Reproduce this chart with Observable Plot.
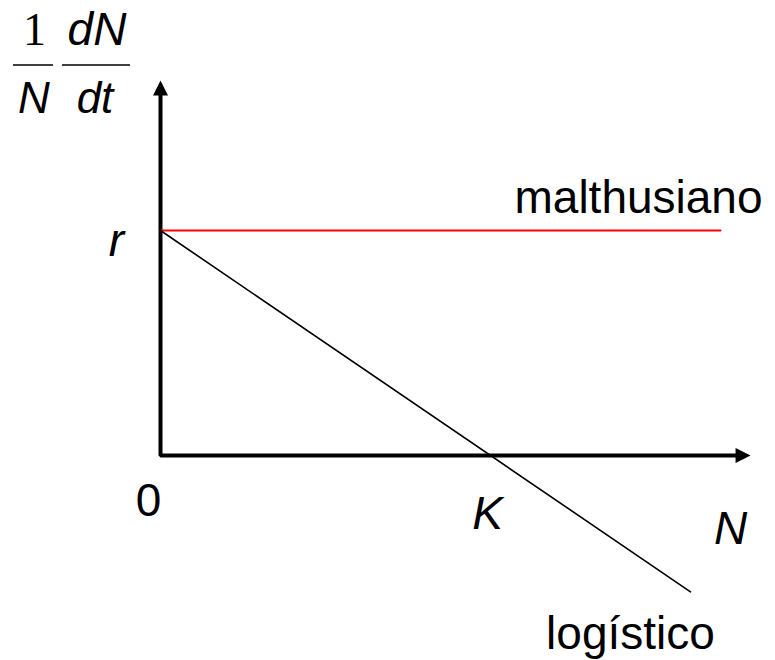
<!DOCTYPE html>
<html>
<head>
<meta charset="utf-8">
<script src="https://cdn.jsdelivr.net/npm/d3@7"></script>
<script src="https://cdn.jsdelivr.net/npm/@observablehq/plot@0.6"></script>
<style>
  body { margin: 0; background: #fff; }
  #chart { position: relative; width: 775px; height: 660px; overflow: hidden; }
</style>
</head>
<body>
<div id="chart"></div>
<script>
// Growth rate per capita (1/N dN/dt) against population size N
const r = 1;              // intrinsic growth rate
const K = 1;              // carrying capacity
const axisN = [0, 0, 1.76];         // y-axis top -> origin -> x-axis end
const axisRate = [1.64, 0, 0];
const arrowTipN = [0, 1.788];
const arrowTipRate = [1.667, 0];
const malthusN = [0, 1.697];
const malthusRate = [r, r];
const logisticN = [0, 1.606];
const logisticRate = [r, -0.606];
const axisLabels = ["r", "0", "K", "N"];
const seriesLabels = ["malthusiano", "logístico"];
const fracTop = ["1", "dN"];
const fracBottom = ["N", "dt"];

const sans = "'Liberation Sans', Arial, sans-serif";
const serif = "'Liberation Serif', 'Times New Roman', serif";

const pts = (xs, ys) => xs.map((x, i) => ({N: x, rate: ys[i]}));

// filled arrowhead whose tip sits at the anchor point, pointing up
const arrowHead = {
  draw(ctx) {
    ctx.moveTo(0, 0);
    ctx.lineTo(-7.5, 15);
    ctx.lineTo(7.5, 15);
    ctx.closePath();
  }
};

const txt = {fontFamily: sans, fontSize: 46, fill: "black", lineAnchor: "bottom", textAnchor: "middle"};

const svg = Plot.plot({
  width: 775,
  height: 660,
  margin: 0,
  x: {domain: [-160 / 330, 615 / 330], axis: null},
  y: {domain: [-205 / 225, 455 / 225], axis: null},
  style: {background: "white", overflow: "visible"},
  marks: [
    Plot.line(pts(axisN, axisRate), {x: "N", y: "rate", stroke: "black", strokeWidth: 4, strokeLinejoin: "miter", strokeLinecap: "butt"}),
    Plot.dot([{N: arrowTipN[0], rate: arrowTipRate[0]}], {x: "N", y: "rate", symbol: arrowHead, fill: "black", stroke: "none"}),
    Plot.dot([{N: arrowTipN[1], rate: arrowTipRate[1]}], {x: "N", y: "rate", symbol: arrowHead, fill: "black", stroke: "none", rotate: 90}),
    Plot.line(pts(malthusN, malthusRate), {x: "N", y: "rate", stroke: "#ff0000", strokeWidth: 2}),
    Plot.line(pts(logisticN, logisticRate), {x: "N", y: "rate", stroke: "black", strokeWidth: 1.6}),
    Plot.text([{N: 0, rate: r, t: axisLabels[0]}], {...txt, x: "N", y: "rate", text: "t", fontStyle: "italic", dx: -44, dy: 25}),
    Plot.text([{N: 0, rate: 0, t: axisLabels[1]}], {...txt, x: "N", y: "rate", text: "t", dx: -12, dy: 60}),
    Plot.text([{N: K, rate: 0, t: axisLabels[2]}], {...txt, x: "N", y: "rate", text: "t", fontStyle: "italic", dx: -3, dy: 73}),
    Plot.text([{N: arrowTipN[1], rate: 0, t: axisLabels[3]}], {...txt, x: "N", y: "rate", text: "t", fontStyle: "italic", dx: -20, dy: 88}),
    Plot.text([{N: malthusN[1], rate: malthusRate[1], t: seriesLabels[0]}], {...txt, x: "N", y: "rate", text: "t", dx: -82, dy: -18}),
    Plot.text([{N: logisticN[1], rate: logisticRate[1], t: seriesLabels[1]}], {...txt, x: "N", y: "rate", text: "t", dx: -60, dy: 57})
  ]
});

// y-axis title written as the fraction (1/N)(dN/dt)
const g = d3.select(svg).append("g").attr("fill", "black");
g.append("text").text(fracTop[0]).attr("x", 34.5).attr("y", 45)
  .attr("text-anchor", "middle").attr("font-family", serif).attr("font-size", 46);
g.append("text").text(fracTop[1]).attr("x", 97).attr("y", 45)
  .attr("text-anchor", "middle").attr("font-family", sans).attr("font-style", "italic").attr("font-size", 46);
g.append("text").text(fracBottom[0]).attr("x", 34).attr("y", 113)
  .attr("text-anchor", "middle").attr("font-family", sans).attr("font-style", "italic").attr("font-size", 44);
g.append("text").text(fracBottom[1]).attr("x", 95).attr("y", 113)
  .attr("text-anchor", "middle").attr("font-family", sans).attr("font-style", "italic").attr("font-size", 44);
g.append("line").attr("x1", 13).attr("x2", 53).attr("y1", 65).attr("y2", 65).attr("stroke", "black").attr("stroke-width", 1.5);
g.append("line").attr("x1", 62).attr("x2", 130).attr("y1", 65).attr("y2", 65).attr("stroke", "black").attr("stroke-width", 1.5);

document.getElementById("chart").appendChild(svg);
</script>
</body>
</html>
